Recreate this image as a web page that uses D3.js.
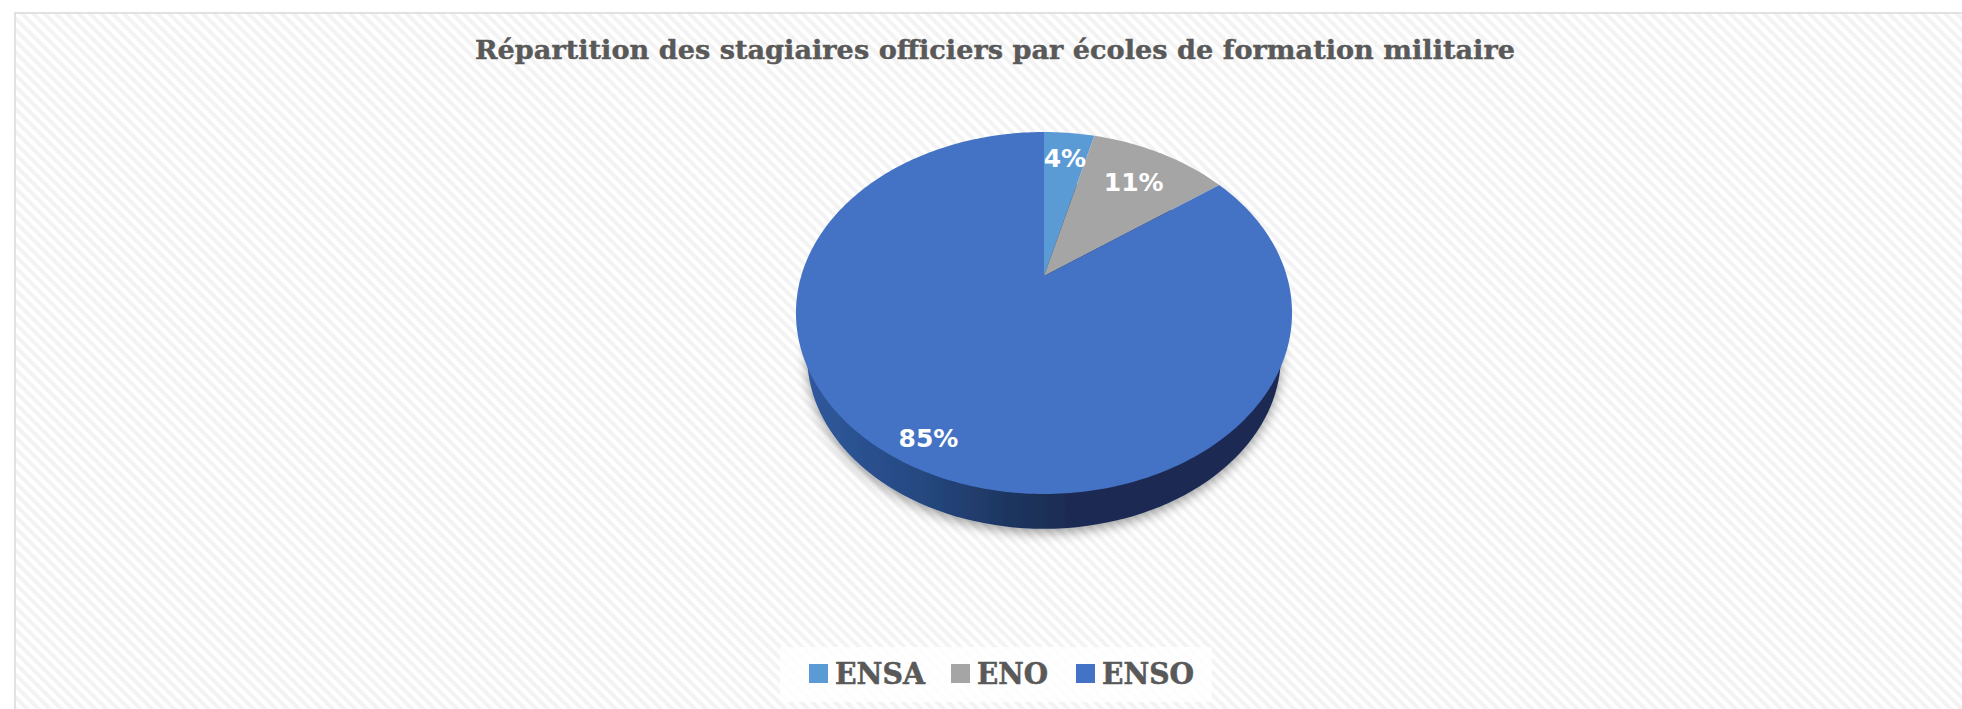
<!DOCTYPE html>
<html>
<head>
<meta charset="utf-8">
<script src="https://d3js.org/d3.v7.min.js"></script>
<style>
    html, body { margin: 0; padding: 0; background: #fff; overflow: hidden; }
</style>
</head>
<body>
<div id="chart"></div>
<script>
const categories = ['ENSA', 'ENO', 'ENSO'];
const percents = [4, 11, 85];
const colors = ['#5b9bd5', '#a5a5a5', '#4472c4'];
const labelRadius = [0.8, 0.74, 0.88];
const title = 'Répartition des stagiaires officiers par écoles de formation militaire';

const width = 1962;
const height = 709;

// tilted pie: the apex sits above the middle of the ellipse
const apexX = 1044;
const apexY = 276;
const spreadX = 242.8;
const spreadY = 173.4;
const tilt = -0.2044;

function project(angle, radius) {
    const u = Math.sin(angle) * radius;
    const v = -Math.cos(angle) * radius;
    const d = 1 + tilt * v;
    return [apexX + spreadX * u / d, apexY + spreadY * v / d];
}

const svg = d3.select('#chart')
    .append('svg')
    .attr('width', width)
    .attr('height', height)
    .style('display', 'block');

const defs = svg.append('defs');

const stripes = defs.append('pattern')
    .attr('id', 'stripes')
    .attr('patternUnits', 'userSpaceOnUse')
    .attr('width', 8)
    .attr('height', 8)
    .attr('patternTransform', 'rotate(45)');
stripes.append('rect').attr('width', 8).attr('height', 8).attr('fill', '#ffffff');
stripes.append('rect').attr('width', 8).attr('height', 4).attr('fill', '#f3f3f3');

const wallFill = defs.append('linearGradient')
    .attr('id', 'wall')
    .attr('x1', 0).attr('x2', 1).attr('y1', 0).attr('y2', 0);
wallFill.append('stop').attr('offset', '0%').attr('stop-color', '#30589c');
wallFill.append('stop').attr('offset', '22%').attr('stop-color', '#264a84');
wallFill.append('stop').attr('offset', '42%').attr('stop-color', '#1e3661');
wallFill.append('stop').attr('offset', '55%').attr('stop-color', '#1a2c52');
wallFill.append('stop').attr('offset', '100%').attr('stop-color', '#1a2c52');

const shadow = defs.append('filter')
    .attr('id', 'shadow')
    .attr('x', '-10%').attr('y', '-10%')
    .attr('width', '120%').attr('height', '125%');
shadow.append('feDropShadow')
    .attr('dx', 0).attr('dy', 4)
    .attr('stdDeviation', 6)
    .attr('flood-color', '#000')
    .attr('flood-opacity', 0.38);

// frame
svg.append('rect')
    .attr('x', 15)
    .attr('y', 13)
    .attr('width', width)
    .attr('height', height)
    .attr('fill', 'url(#stripes)')
    .attr('stroke', '#d9d9d9')
    .attr('stroke-width', 1.5);

svg.append('text')
    .attr('x', 995)
    .attr('y', 59)
    .attr('text-anchor', 'middle')
    .attr('font-family', '"DejaVu Serif", serif')
    .attr('font-weight', 'bold')
    .attr('font-size', 26)
    .attr('textLength', 1040)
    .attr('lengthAdjust', 'spacingAndGlyphs')
    .attr('fill', '#595959')
    .attr('stroke', '#595959')
    .attr('stroke-width', 0.4)
    .text(title);

const pie = d3.pie().sort(null).value(d => d.value);
const slices = pie(categories.map((name, i) => ({name, value: percents[i], i})));

const outline = d3.line().curve(d3.curveLinear);

// side wall, a smaller copy of the outline pushed down
const circleAngles = d3.range(0, 361, 2).map(d => d * Math.PI / 180);
const wallScale = 0.955;
const wallCenterY = 356;
const wallPoints = circleAngles.map(a => {
    const p = project(a, 1);
    return [apexX + (p[0] - apexX) * wallScale, wallCenterY + (p[1] - 313) * wallScale];
});
svg.append('path')
    .attr('d', outline(wallPoints) + 'Z')
    .attr('fill', 'url(#wall)')
    .attr('filter', 'url(#shadow)');

function slicePath(d) {
    const steps = Math.max(2, Math.ceil((d.endAngle - d.startAngle) * 60));
    const points = d3.range(steps + 1).map(k => {
        return project(d.startAngle + (d.endAngle - d.startAngle) * k / steps, 1);
    });
    return outline([[apexX, apexY]].concat(points)) + 'Z';
}

svg.append('g')
    .selectAll('path')
    .data(slices)
    .enter()
    .append('path')
    .attr('d', slicePath)
    .attr('fill', d => colors[d.data.i]);

svg.append('g')
    .selectAll('text')
    .data(slices)
    .enter()
    .append('text')
    .attr('x', d => project((d.startAngle + d.endAngle) / 2, labelRadius[d.data.i])[0])
    .attr('y', d => project((d.startAngle + d.endAngle) / 2, labelRadius[d.data.i])[1] + 9)
    .attr('text-anchor', 'middle')
    .attr('font-family', '"DejaVu Sans", sans-serif')
    .attr('font-weight', 'bold')
    .attr('font-size', 25)
    .attr('fill', '#fff')
    .text(d => d.data.value + '%');

// legend
svg.append('rect')
    .attr('x', 780)
    .attr('y', 647)
    .attr('width', 432)
    .attr('height', 55)
    .attr('fill', '#fff')
    .attr('fill-opacity', 0.8);

const legendX = d3.scaleOrdinal().domain(categories).range([809, 951, 1076]);
const legendTextWidth = d3.scaleOrdinal().domain(categories).range([90, 71, 92]);

const legend = svg.append('g')
    .selectAll('g')
    .data(categories)
    .enter()
    .append('g')
    .attr('transform', d => 'translate(' + legendX(d) + ',664)');

legend.append('rect')
    .attr('width', 19)
    .attr('height', 19)
    .attr('fill', (d, i) => colors[i]);

legend.append('text')
    .attr('x', 26)
    .attr('y', 20)
    .attr('font-family', '"DejaVu Serif", serif')
    .attr('font-weight', 'bold')
    .attr('font-size', 30)
    .attr('textLength', d => legendTextWidth(d))
    .attr('lengthAdjust', 'spacingAndGlyphs')
    .attr('fill', '#595959')
    .attr('stroke', '#595959')
    .attr('stroke-width', 0.6)
    .text(d => d);
</script>
</body>
</html>
